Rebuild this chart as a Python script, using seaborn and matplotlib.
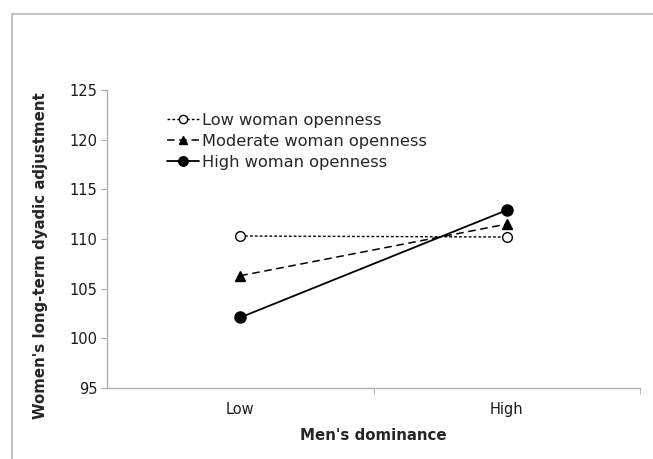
import pandas as pd
import matplotlib.pyplot as plt
import seaborn as sns

# values
dominance = ['Low', 'High']
low_open = [110.3, 110.2]
moderate_open = [106.3, 111.5]
high_open = [102.1, 112.9]
series_names = ['Low woman openness', 'Moderate woman openness', 'High woman openness']
y_ticks = [95, 100, 105, 110, 115, 120, 125]

df = pd.DataFrame({
    'dominance': dominance * 3,
    'pos': list(range(len(dominance))) * 3,
    'adjustment': low_open + moderate_open + high_open,
    'group': [n for n in series_names for _ in dominance],
})

sns.set_style('white')
plt.rcParams['font.family'] = ['DejaVu Sans']

fig = plt.figure(figsize=(6.53, 4.59), dpi=100)
ax = fig.add_axes([107 / 653, 1 - 388 / 459, (640 - 107) / 653, (388 - 90) / 459])

styles = {
    'Low woman openness': dict(ls=(0, (2, 1.5)), marker='o', mfc='white', ms=7, lw=1.0),
    'Moderate woman openness': dict(ls=(0, (5, 3)), marker='^', mfc='black', ms=7.5, lw=1.1),
    'High woman openness': dict(ls='-', marker='o', mfc='black', ms=8, lw=1.3),
}
for name in series_names:
    st = styles[name]
    sub = df[df['group'] == name]
    sns.lineplot(data=sub, x='pos', y='adjustment', ax=ax, color='black',
                 linestyle=st['ls'], linewidth=st['lw'], marker=st['marker'],
                 markersize=st['ms'], markerfacecolor=st['mfc'],
                 markeredgecolor='black', markeredgewidth=1.0, label=name)

ax.set_xlim(-0.5, len(dominance) - 0.5)
ax.set_ylim(y_ticks[0], y_ticks[-1])
ax.set_yticks(y_ticks)
ax.set_xticks(range(len(dominance)))
ax.set_xticklabels(dominance)
ax.set_xticks([0.5, 1.5], minor=True)
ax.tick_params(axis='x', which='major', length=0, pad=10, labelsize=10.5, colors='#1a1a1a')
ax.tick_params(axis='x', which='minor', length=4, color='#aaaaaa', direction='out', bottom=True)
ax.tick_params(axis='y', length=4, color='#aaaaaa', direction='out', left=True, labelsize=10.5,
               labelcolor='#1a1a1a', pad=3)

for side in ['top', 'right']:
    ax.spines[side].set_visible(False)
for side in ['left', 'bottom']:
    ax.spines[side].set_color('#b0b0b0')
    ax.spines[side].set_linewidth(1.0)

ax.set_xlabel("Men's dominance", fontsize=10.8, fontweight='bold', labelpad=8)
ax.set_ylabel("Women's long-term dyadic adjustment", fontsize=10.8, fontweight='bold')
ax.yaxis.set_label_coords(-0.11, 0.443)

leg = ax.legend(loc='upper left', bbox_to_anchor=(0.1, 0.945), frameon=False, fontsize=11.7,
                handlelength=2.0, handletextpad=0.15, labelspacing=0.36, borderaxespad=0,
                markerscale=0.85)

# outer chart border (top and left edges visible in the reference)
fig.add_artist(plt.Line2D([12 / 653, 1], [1 - 14 / 459, 1 - 14 / 459], color='#b8b8b8', lw=1.2))
fig.add_artist(plt.Line2D([12 / 653, 12 / 653], [0, 1 - 14 / 459], color='#b8b8b8', lw=1.2))

fig.savefig('out.png', dpi=100)
